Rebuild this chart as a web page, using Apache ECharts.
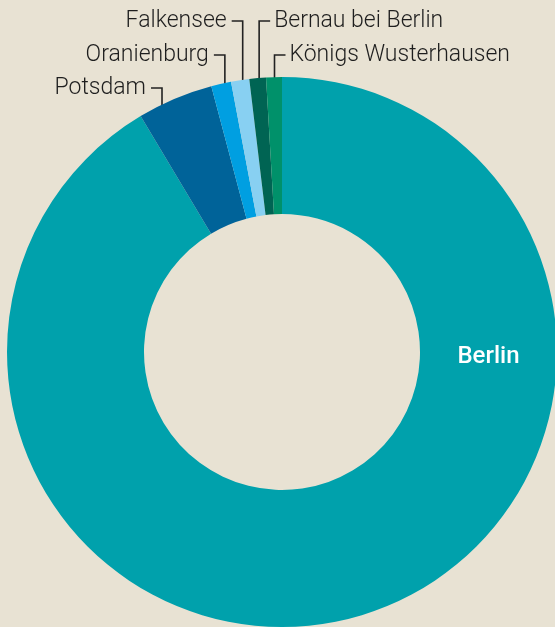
<!DOCTYPE html>
<html><head><meta charset="utf-8">
<script src="https://cdn.jsdelivr.net/npm/echarts@6/dist/echarts.min.js"></script>
<style>html,body{margin:0;padding:0;background:#E8E2D3;} #c{width:555px;height:627px;}</style>
</head><body><div id="c"></div>
<script>
// Data (population, thousands)
const cities = ['Berlin', 'Potsdam', 'Oranienburg', 'Falkensee', 'Bernau bei Berlin', 'Königs Wusterhausen'];
const population = [3755, 183, 48, 44, 40, 38];
const colors = ['#00A1AC', '#006399', '#009FE1', '#88D0F2', '#006453', '#00916A'];

// Layout / style
const CX = 282, CY = 352, R0 = 138, R = 275;
const labelSpec = {
  'Potsdam': { y: 88, side: 'left', turn: 4.8 },
  'Oranienburg': { y: 55, side: 'left', turn: 0 },
  'Falkensee': { y: 21, side: 'left', turn: 0 },
  'Bernau bei Berlin': { y: 21, side: 'right', turn: 0 },
  'Königs Wusterhausen': { y: 55, side: 'right', turn: 0 }
};

const chart = echarts.init(document.getElementById('c'), null, { renderer: 'canvas' });
const data = cities.map((c, i) => {
  const d = { name: c, value: population[i], itemStyle: { color: colors[i] } };
  if (i === 0) {
    d.label = { position: 'inside', color: '#ffffff', fontSize: 24, fontWeight: 500 };
    d.labelLine = { show: false };
  }
  return d;
});

chart.setOption({
  backgroundColor: '#E8E2D3',
  animation: false,
  series: [{
    type: 'pie',
    center: [CX, CY],
    radius: [R0, R],
    startAngle: 90,
    clockwise: true,
    avoidLabelOverlap: false,
    data: data,
    itemStyle: { borderWidth: 0 },
    label: {
      show: true,
      position: 'outside',
      formatter: '{b}',
      fontFamily: 'Roboto',
      fontSize: 23,
      fontWeight: 300,
      color: '#1e1e1e',
      overflow: 'none'
    },
    labelLine: {
      show: true,
      showAbove: true,
      length: 10,
      length2: 10,
      lineStyle: { color: '#222222', width: 1.6 }
    },
    emphasis: { disabled: true },
    labelLayout: function (p) {
      const name = cities[p.dataIndex];
      if (p.dataIndex === 0) {
        return { x: CX + (R0 + R) / 2, y: CY + 5, align: 'center', verticalAlign: 'middle' };
      }
      const s = labelSpec[name];
      const p0 = p.labelLinePoints[0];
      let a = Math.atan2(p0[1] - CY, p0[0] - CX) - s.turn * Math.PI / 180;
      const ax = CX + (R - 17) * Math.cos(a);
      const ay = CY + (R - 17) * Math.sin(a);
      if (s.side === 'left') {
        return {
          x: ax - 16, y: s.y, align: 'right', verticalAlign: 'middle',
          labelLinePoints: [[ax, ay], [ax, s.y], [ax - 11, s.y]]
        };
      }
      return {
        x: ax + 15, y: s.y, align: 'left', verticalAlign: 'middle',
        labelLinePoints: [[ax, ay], [ax, s.y], [ax + 11, s.y]]
      };
    }
  }]
});
</script>
</body></html>
